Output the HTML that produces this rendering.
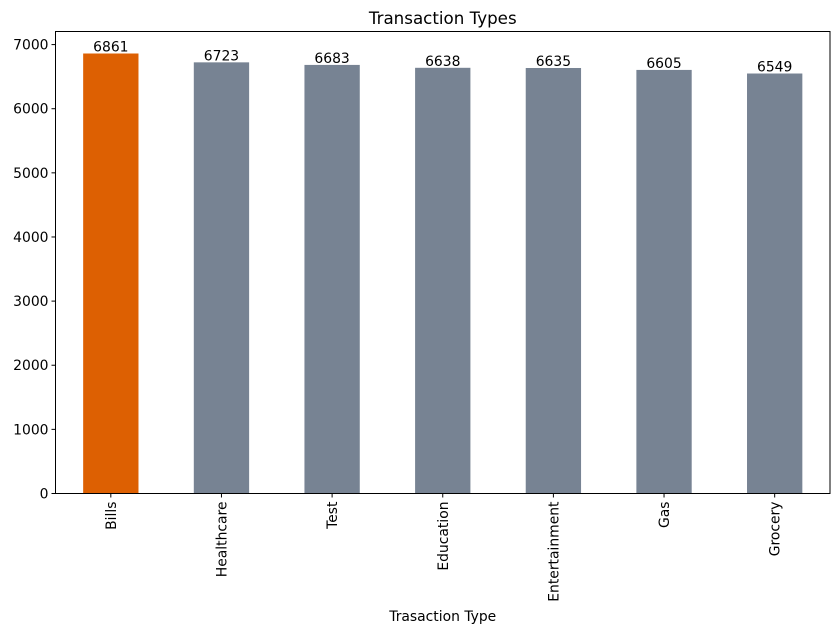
<!DOCTYPE html>
<html><head><meta charset="utf-8"><style>
body{margin:0;background:#fff;font-family:"Liberation Sans","DejaVu Sans",sans-serif;}
svg text{font-family:"DejaVu Sans","Liberation Sans",sans-serif;}
</style></head><body>
<svg id="chart" width="839" height="633" xmlns="http://www.w3.org/2000/svg"></svg>
<script>
const categories=["Bills","Healthcare","Test","Education","Entertainment","Gas","Grocery"];
const values=[6861,6723,6683,6638,6635,6605,6549];
const yTicks=[0,1000,2000,3000,4000,5000,6000,7000];
const L=55.5,R=830,T=31.5,B=493.5,yMax=6861*1.05;
const NS="http://www.w3.org/2000/svg";
const svg=document.getElementById('chart');
function y(v){return B-(v/yMax)*(B-T);}
function x(i){return L+(i+0.5)*(R-L)/categories.length;}
const bw=(R-L)/categories.length*0.5;
function mk(tag,attrs,txt){const e=document.createElementNS(NS,tag);for(const k in attrs)e.setAttribute(k,attrs[k]);if(txt!==undefined)e.textContent=txt;svg.appendChild(e);return e;}
const title=mk('text',{x:(L+R)/2,y:24,'text-anchor':'middle','font-size':16.7},'Transaction Types');


values.forEach((v,i)=>{
  const r=mk('rect',{x:x(i)-bw/2,y:y(v),width:bw,height:B-y(v),fill:i===0?'#dd6002':'#778393'});
  
  
  const t=mk('text',{x:x(i),y:y(v)-2,'text-anchor':'middle','font-size':13.9},String(v));
  
  
  mk('line',{x1:x(i),x2:x(i),y1:B,y2:B+4,stroke:'#000'});
  const xl=mk('text',{transform:`translate(${x(i)+5},${B+8}) rotate(-90)`,'text-anchor':'end','font-size':13.9},categories[i]);
  
  
});
yTicks.forEach(v=>{
  mk('line',{x1:L-4,x2:L,y1:y(v),y2:y(v),stroke:'#000'});
  const t=mk('text',{x:L-7,y:y(v)+5,'text-anchor':'end','font-size':13.9},String(v));
  
  
});
const frame=mk('rect',{x:L,y:T,width:R-L,height:B-T,fill:'none',stroke:'#000','stroke-width':1});


const xt=mk('text',{x:(L+R)/2,y:621,'text-anchor':'middle','font-size':13.9},'Trasaction Type');


</script>
</body></html>
